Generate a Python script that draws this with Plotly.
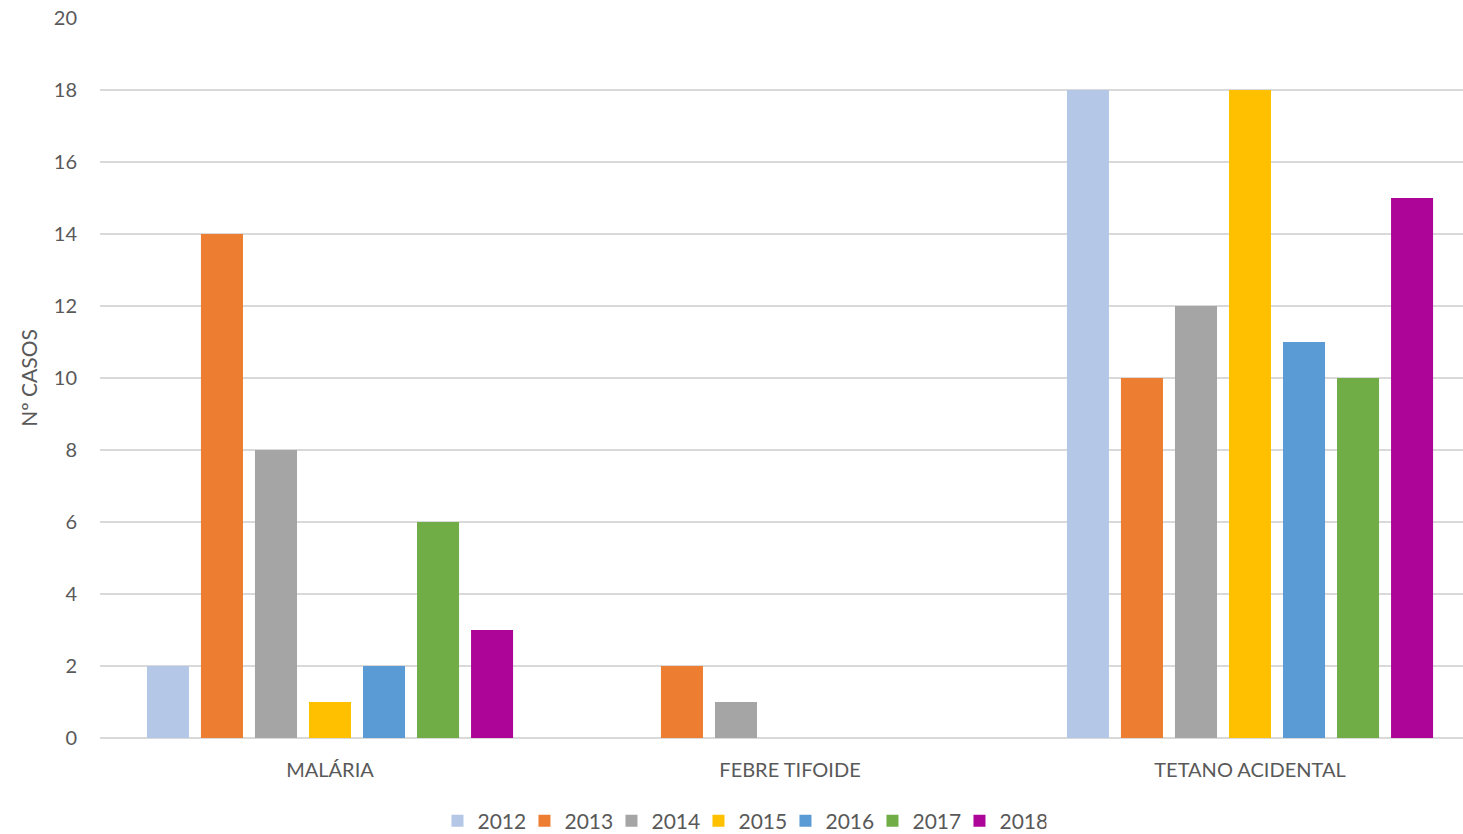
import plotly.graph_objects as go

categories = ["MALÁRIA", "FEBRE TIFOIDE", "TETANO ACIDENTAL"]
years = ["2012", "2013", "2014", "2015", "2016", "2017", "2018"]
values_2012 = [2, 0, 18]
values_2013 = [14, 2, 10]
values_2014 = [8, 1, 12]
values_2015 = [1, 0, 18]
values_2016 = [2, 0, 11]
values_2017 = [6, 0, 10]
values_2018 = [3, 0, 15]
y_ticks = [0, 2, 4, 6, 8, 10, 12, 14, 16, 18, 20]

series = [values_2012, values_2013, values_2014, values_2015,
          values_2016, values_2017, values_2018]
colors = ["#B4C7E7", "#ED7D31", "#A5A5A5", "#FFC000",
          "#5B9BD5", "#70AD47", "#AE0599"]

text_color = "#595959"
grid_color = "#D9D9D9"
font_family = "Lato, 'Open Sans', sans-serif"

fig = go.Figure()
for year, vals, col in zip(years, series, colors):
    fig.add_trace(go.Bar(
        name=year, x=categories, y=vals,
        marker=dict(color=col, line=dict(width=0)),
    ))

fig.update_layout(
    width=1463, height=834,
    margin=dict(l=100, r=0, t=18, b=96, autoexpand=False),
    paper_bgcolor="white", plot_bgcolor="white",
    barmode="group", bargap=0.178, bargroupgap=0.222,
    font=dict(family=font_family, color=text_color, size=20),
    showlegend=True,
    legend=dict(
        orientation="h", xref="paper", yref="container",
        x=0.471, xanchor="center", y=0.0156, yanchor="middle",
        font=dict(size=21, color=text_color),
        itemwidth=30, entrywidth=42, entrywidthmode="pixels",
        traceorder="normal",
    ),
    xaxis=dict(
        range=[-0.5, -0.5 + 1363 / 460],
        showgrid=False, showline=False, zeroline=False,
        ticks="", tickfont=dict(size=20, color=text_color),
        ticklabelstandoff=18, automargin=False,
    ),
    yaxis=dict(
        range=[0, 20], tickvals=y_ticks,
        showgrid=True, gridcolor=grid_color, gridwidth=1.5,
        zeroline=True, zerolinecolor=grid_color, zerolinewidth=1.5,
        showline=False, ticks="",
        tickfont=dict(size=20, color=text_color),
        ticklabelstandoff=22, automargin=False,
        title=dict(text="Nº CASOS", font=dict(size=21, color=text_color), standoff=10),
    ),
)

fig.write_html("out.html")
